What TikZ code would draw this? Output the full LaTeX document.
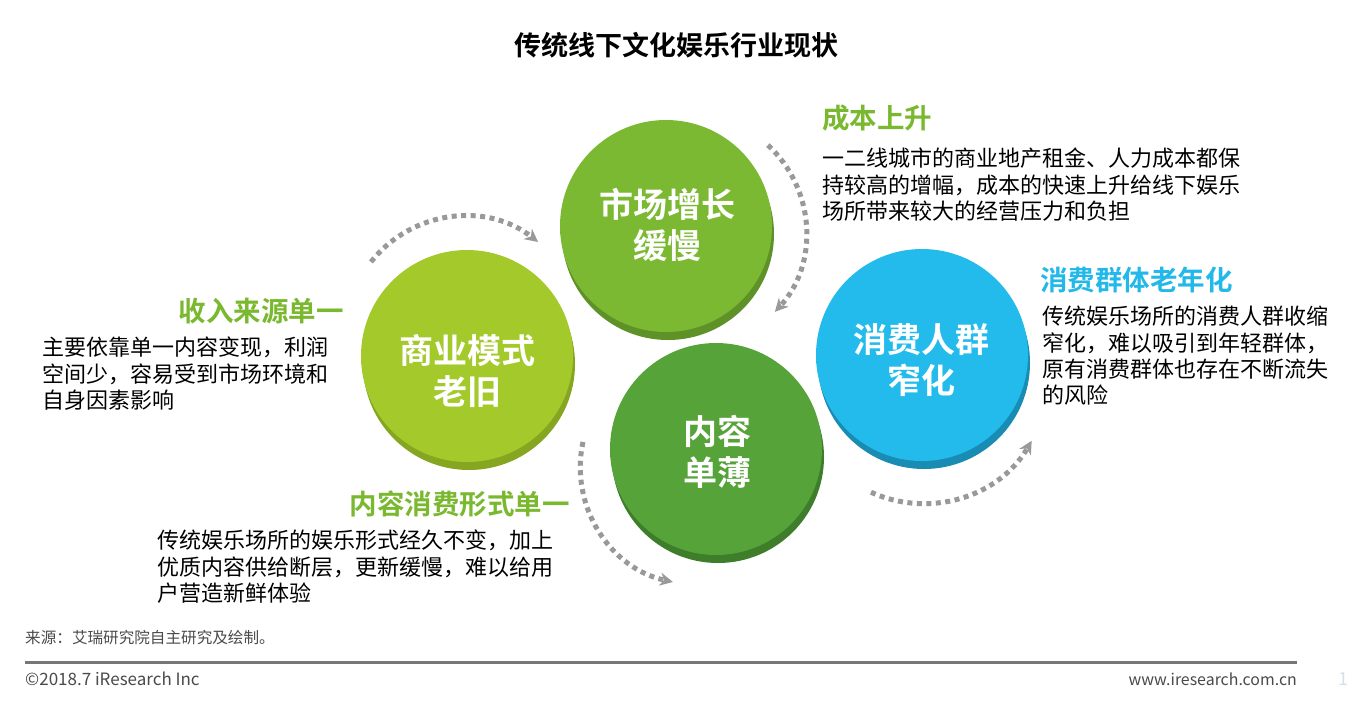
\documentclass[tikz,border=0pt]{standalone}
\usepackage{fontspec}
\setmainfont{Noto Sans CJK SC}[BoldFont={Noto Sans CJK SC Bold}]
\usetikzlibrary{arrows.meta}
\definecolor{faceA}{HTML}{A4C92B}\definecolor{rimA}{HTML}{86A622}
\definecolor{faceB}{HTML}{7CB932}\definecolor{rimB}{HTML}{5E9127}
\definecolor{faceC}{HTML}{55A339}\definecolor{rimC}{HTML}{3E7D2A}
\definecolor{faceD}{HTML}{22BBEB}\definecolor{rimD}{HTML}{198CB4}
\definecolor{hgreen}{HTML}{7AB92F}
\definecolor{hblue}{HTML}{22B8EA}
\definecolor{arcgray}{HTML}{999999}
\definecolor{footgray}{HTML}{4A4A4A}
\definecolor{rulegray}{HTML}{777777}
\definecolor{pagegray}{HTML}{D5E0EA}
\tikzset{
  bubble/.style={circle, minimum size=212pt, inner sep=0pt},
  bubbletext/.style={text=white, align=center, font=\bfseries\fontsize{34}{41}\selectfont},
  head/.style={inner sep=0pt, font=\bfseries\fontsize{27.5}{30}\selectfont},
  body/.style={inner sep=0pt, anchor=north west, align=left, text=black, font=\fontsize{22}{26.4}\selectfont},
  flow/.style={draw=arcgray, line width=5pt, dash pattern=on 5pt off 4.5pt,
    -{Stealth[length=13pt,width=13pt,inset=4pt]}},
  foot/.style={inner sep=0pt, text=footgray, font=\fontsize{15.6}{17}\selectfont}
}
\newcommand\mybubble[5]{% name, x, y, face, rim
  \fill[#5] (#2-106,#3) rectangle (#2+106,#3+8);
  \fill[#5] (#2+2,#3+8) circle[radius=106];
  \node[bubble, fill=#4] (#1) at (#2,#3) {};
}
\begin{document}
\begin{tikzpicture}[x=1pt,y=-1pt]
\useasboundingbox[fill=white] (0,0) rectangle (1352,702);

% title
\node[font=\bfseries\fontsize{27}{30}\selectfont, inner sep=0pt] (title) at (676,45) {传统线下文化娱乐行业现状};

% bubbles
\mybubble{market}{666}{226}{faceB}{rimB}
\mybubble{model}{467}{356}{faceA}{rimA}
\mybubble{content}{716}{449}{faceC}{rimC}
\mybubble{people}{922}{355}{faceD}{rimD}
\node[bubbletext] (tmarket) at (667,225) {市场增长\\缓慢};
\node[bubbletext] (tmodel) at (467,371) {商业模式\\老旧};
\node[bubbletext] (tcontent) at (717,452) {内容\\单薄};
\node[bubbletext] (tpeople) at (921,360) {消费人群\\窄化};

% dotted arcs
\draw[flow] (464.5,335.5) ++(-141.8:119) arc[start angle=-141.8, end angle=-51.8, radius=119];
\draw[flow] (688,232) ++(-47.4:118) arc[start angle=-47.4, end angle=42.6, radius=118];
\draw[flow] (923,378) ++(114.5:125.5) arc[start angle=114.5, end angle=30, radius=125.5];
\draw[flow] (698,467) ++(192.3:117.7) arc[start angle=192.3, end angle=102.3, radius=117.7];

% headings and texts
\node[head, text=hgreen, anchor=west] (hcost) at (822,118) {成本上升};
\node[body] (bcost) at (822,148) {一二线城市的商业地产租金、人力成本都保\\持较高的增幅，成本的快速上升给线下娱乐\\场所带来较大的经营压力和负担};

\node[head, text=hblue, anchor=west] (hage) at (1040,280) {消费群体老年化};
\node[body] (bage) at (1042,306) {传统娱乐场所的消费人群收缩\\窄化，难以吸引到年轻群体，\\原有消费群体也存在不断流失\\的风险};

\node[head, text=hgreen, anchor=east] (hincome) at (344,311) {收入来源单一};
\node[body] (bincome) at (42,337) {主要依靠单一内容变现，利润\\空间少，容易受到市场环境和\\自身因素影响};

\node[head, text=hgreen, anchor=east] (hform) at (570,504) {内容消费形式单一};
\node[body] (bform) at (157,530) {传统娱乐场所的娱乐形式经久不变，加上\\优质内容供给断层，更新缓慢，难以给用\\户营造新鲜体验};

% footer
\node[foot, anchor=west] (src) at (25,638) {来源：艾瑞研究院自主研究及绘制。};
\coordinate (ruleL) at (25,662);
\coordinate (ruleR) at (1297,662);
\draw[line width=3pt, draw=rulegray] (ruleL) -- (ruleR);
\node[foot, anchor=west, font=\fontsize{17}{19}\selectfont] (copy) at (25,679) {©2018.7 iResearch Inc};
\node[foot, anchor=east, font=\fontsize{15.9}{18}\selectfont] (url) at (1297,679) {www.iresearch.com.cn};
\node[foot, text=pagegray, font=\fontsize{18}{20}\selectfont] (page) at (1343,679) {1};
\end{tikzpicture}
\end{document}
